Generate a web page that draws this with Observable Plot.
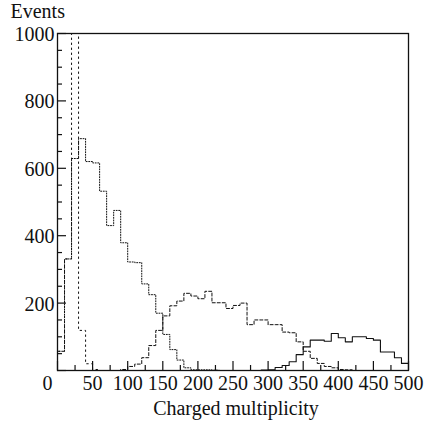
<!DOCTYPE html>
<html>
<head>
<meta charset="utf-8">
<script src="https://cdn.jsdelivr.net/npm/d3@7"></script>
<script src="https://cdn.jsdelivr.net/npm/@observablehq/plot@0.6"></script>
<style>
  html, body { margin: 0; padding: 0; background: #fff; }
</style>
</head>
<body>
<div id="chart"></div>
<script>
// ---- data (bin width 10 in charged multiplicity) ----
const binWidth = 10;

// dotted histogram, bins starting at 0
const dottedStart = 0;
const dottedValues = [57, 331, 629, 688, 620, 616, 532, 430, 475, 379, 322, 320, 257, 225, 170, 107, 62, 31, 8, 2, 2, 2, 1];

// dash-dotted histogram, bins starting at 0 (bin 20-30 runs off the top of the frame)
const dashDotStart = 0;
const dashDotValues = [57, 331, 1250, 119, 20, 3, 0];

// dashed histogram, bins starting at 80
const dashedStart = 80;
const dashedValues = [0, 3, 12, 19, 38, 74, 119, 162, 192, 206, 229, 221, 213, 235, 201, 201, 184, 193, 200, 136, 150, 150, 136, 136, 114, 112, 85, 57, 36, 21, 12, 8, 3, 2];

// solid histogram, bins starting at 280
const solidStart = 280;
const solidValues = [0, 1, 2, 9, 15, 26, 47, 70, 90, 90, 87, 110, 97, 85, 100, 100, 95, 90, 55, 55, 38, 21];

// axes
const xMajorTicks = [0, 50, 100, 150, 200, 250, 300, 350, 400, 450, 500];
const xMinorTicks = [25, 75, 125, 175, 225, 275, 325, 375, 425, 475];
const xTickLabels = ["0", "50", "100", "150", "200", "250", "300", "350", "400", "450", "500"];
const yMajorTicks = [0, 200, 400, 600, 800, 1000];
const yMinorTicks = [50, 100, 150, 250, 300, 350, 450, 500, 550, 650, 700, 750, 850, 900, 950];
const yTickLabels = ["200", "400", "600", "800", "1000"];
const xTitle = "Charged multiplicity";
const yTitle = "Events";

// ---- build step outlines ----
function steps(start, values) {
  const pts = [{x: start, y: 0}];
  values.forEach((v, i) => {
    const lo = start + i * binWidth;
    pts.push({x: lo, y: v}, {x: lo + binWidth, y: v});
  });
  pts.push({x: start + values.length * binWidth, y: 0});
  return pts;
}

const W = 426, H = 424;
const mTop = 33, mRight = 18, mBottom = 54, mLeft = 57;
const frameW = W - mLeft - mRight, frameH = H - mTop - mBottom;
const majorLen = 9, minorLen = 5;
const ink = "#111";

const xLabelData = xMajorTicks.map((v, i) => ({v, t: xTickLabels[i]}));
const yLabelData = yTickLabels.map(t => ({v: +t, t}));

const plot = Plot.plot({
  width: W,
  height: H,
  marginTop: mTop,
  marginRight: mRight,
  marginBottom: mBottom,
  marginLeft: mLeft,
  x: {domain: [0, 500], axis: null},
  y: {domain: [0, 1000], axis: null},
  style: {fontFamily: "'Liberation Serif', 'Times New Roman', serif", fontSize: "20px", color: ink, background: "#fff"},
  marks: [
    Plot.line(steps(dashedStart, dashedValues), {x: "x", y: "y", stroke: ink, strokeWidth: 1, strokeDasharray: "3,2", clip: true}),
    Plot.line(steps(dottedStart, dottedValues), {x: "x", y: "y", stroke: ink, strokeWidth: 1, strokeDasharray: "1,1.6", clip: true}),
    Plot.line(steps(dashDotStart, dashDotValues), {x: "x", y: "y", stroke: ink, strokeWidth: 1, strokeDasharray: "1.5,3.5", clip: true}),
    Plot.line(steps(solidStart, solidValues), {x: "x", y: "y", stroke: ink, strokeWidth: 1.1, clip: true}),
    // inward ticks
    Plot.tickX(xMajorTicks, {x: d => d, insetTop: frameH - majorLen, stroke: ink, strokeWidth: 1.2}),
    Plot.tickX(xMinorTicks, {x: d => d, insetTop: frameH - minorLen, stroke: ink, strokeWidth: 1.2}),
    Plot.tickY(yMajorTicks, {y: d => d, insetRight: frameW - majorLen, stroke: ink, strokeWidth: 1.2}),
    Plot.tickY(yMinorTicks, {y: d => d, insetRight: frameW - minorLen, stroke: ink, strokeWidth: 1.2}),
    Plot.frame({stroke: ink, strokeWidth: 1.3}),
    // tick labels
    Plot.text(xLabelData.filter(d => d.v !== 0), {x: "v", text: "t", frameAnchor: "bottom", dy: 13, lineAnchor: "middle", fill: ink}),
    Plot.text(xLabelData.filter(d => d.v === 0), {x: "v", text: "t", frameAnchor: "bottom", dy: 13, dx: -10, lineAnchor: "middle", fill: ink}),
    Plot.text(yLabelData, {y: "v", text: "t", frameAnchor: "left", dx: -3, dy: 1, textAnchor: "end", lineAnchor: "middle", fill: ink}),
    // titles
    Plot.text([yTitle], {text: d => d, frameAnchor: "top-left", dx: -47, dy: -22, textAnchor: "start", lineAnchor: "middle", fill: ink}),
    Plot.text([xTitle], {text: d => d, frameAnchor: "bottom", dx: 3, dy: 38, lineAnchor: "middle", fill: ink})
  ]
});
document.getElementById("chart").appendChild(plot);
</script>
</body>
</html>
